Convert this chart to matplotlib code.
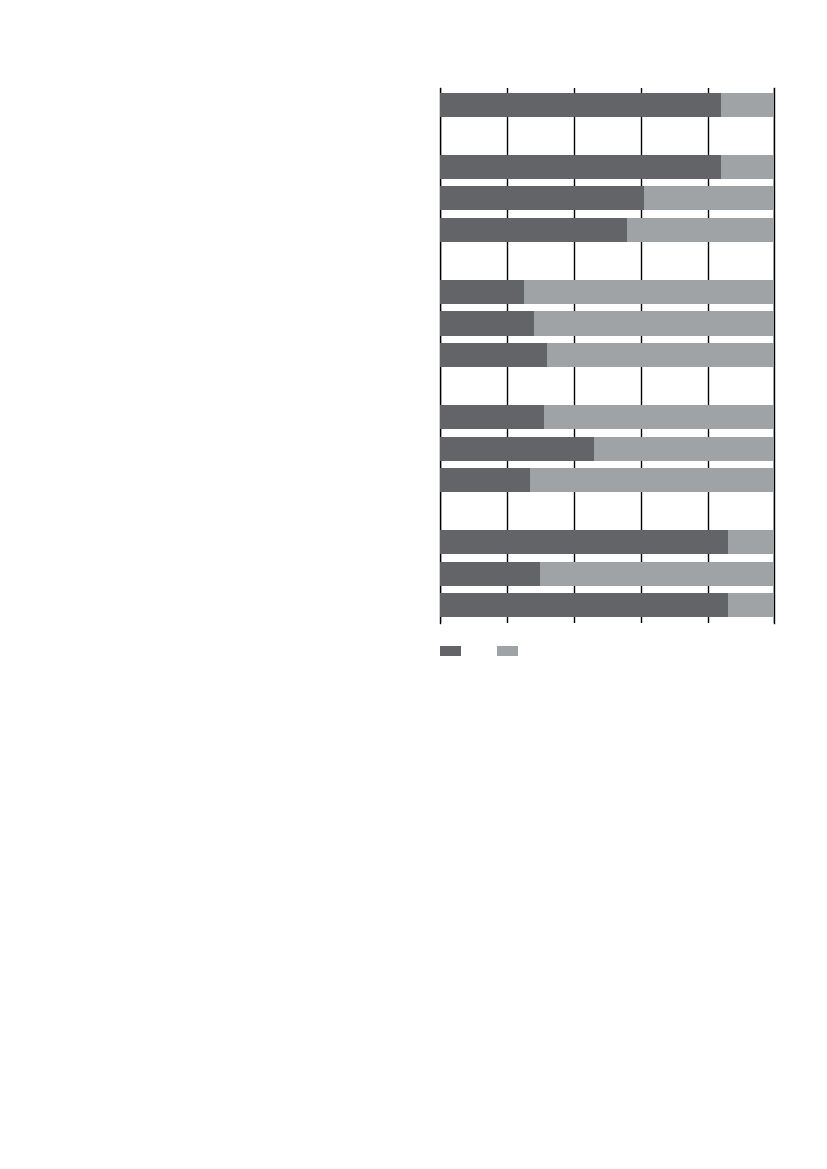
import numpy as np
import matplotlib.pyplot as plt
from matplotlib.patches import Patch

# rows from top to bottom, None = empty spacer row
rows = ["r1", "", "r3", "r4", "r5", "", "r7", "r8", "r9", "",
        "r11", "r12", "r13", "", "r15", "r16", "r17"]
dark = [84, None, 84, 61, 56, None, 25, 28, 32, None, 31, 46, 27, None, 86, 30, 86]
light = [16, None, 16, 39, 44, None, 75, 72, 68, None, 69, 54, 73, None, 14, 70, 14]

c_dark = "#636468"
c_light = "#a0a3a6"

fig = plt.figure(figsize=(8.27, 11.69), dpi=100)
ax = fig.add_axes([0.532, 0.467, 0.4045, 0.4577])

idx = np.arange(len(rows))
d = np.array([np.nan if v is None else v for v in dark], dtype=float)
l = np.array([np.nan if v is None else v for v in light], dtype=float)

ax.barh(idx, d, height=0.77, color=c_dark, linewidth=0, zorder=2)
ax.barh(idx, l, left=d, height=0.77, color=c_light, linewidth=0, zorder=2)

ax.set_xlim(0, 100)
ax.set_ylim(16.58, -0.53)
ax.set_xticks(range(0, 101, 20))
ax.set_yticks([])
ax.tick_params(axis="x", length=0, labelbottom=False)
ax.grid(axis="x", color="black", linewidth=1.0, zorder=1)
ax.set_axisbelow(True)
for s in ["top", "bottom"]:
    ax.spines[s].set_visible(False)
for s in ["left", "right"]:
    ax.spines[s].set_color("black")
    ax.spines[s].set_linewidth(1.0)
    ax.spines[s].set_zorder(1)

handles = [Patch(facecolor=c_dark, linewidth=0), Patch(facecolor=c_light, linewidth=0)]
fig.legend(handles, ["", ""], ncol=2, loc="upper left",
           bbox_to_anchor=(0.532, 1 - 645 / 1169), frameon=False,
           fontsize=10, handlelength=1.51, handleheight=0.72,
           handletextpad=0.8, columnspacing=1.8, borderpad=0, borderaxespad=0)

fig.savefig("out.png", dpi=100)
